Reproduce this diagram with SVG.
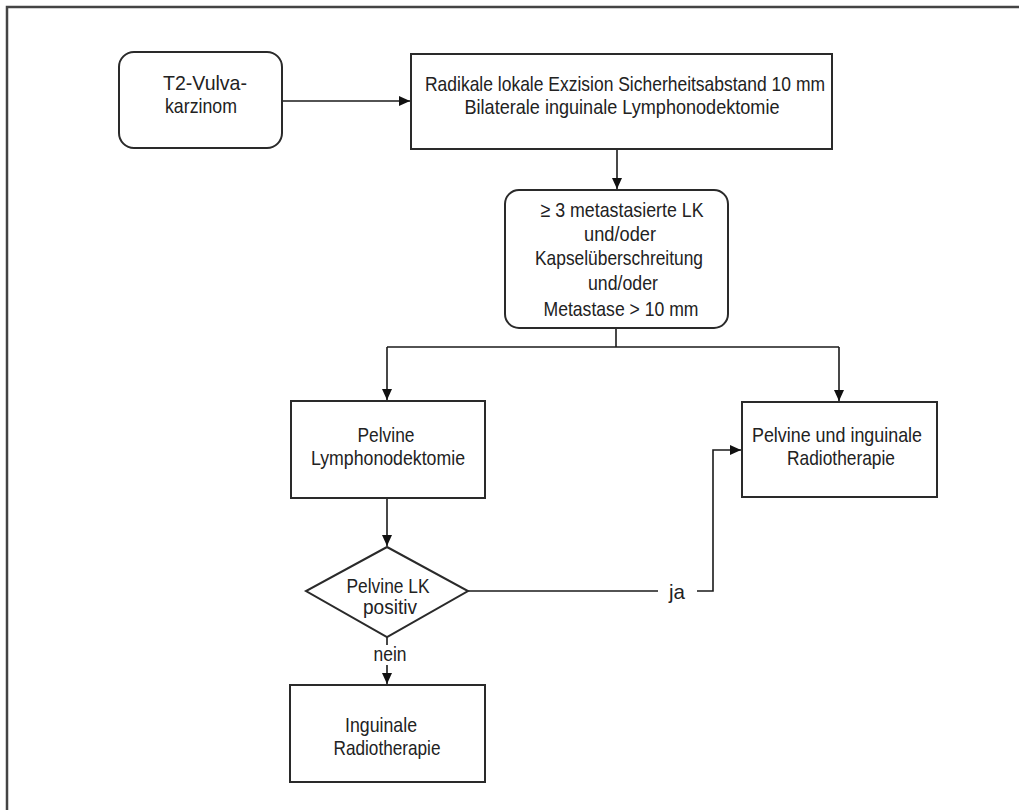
<svg xmlns="http://www.w3.org/2000/svg" width="1019" height="810" viewBox="0 0 1019 810">
<defs>
<style>
.box{fill:#fff;stroke:#2a2a2a;stroke-width:2}
.t{font-family:"Liberation Sans",Arial,sans-serif;font-size:21px;fill:#222;text-anchor:middle}
.c{fill:none;stroke:#1a1a1a;stroke-width:1.6}
.frame{fill:none;stroke:#444;stroke-width:2.5}
</style>
<marker id="ah" markerUnits="userSpaceOnUse" markerWidth="12" markerHeight="10" refX="11" refY="5" orient="auto">
<path d="M0,0 L11,5 L0,10 Z" fill="#111"/>
</marker>
</defs>
<rect width="1019" height="810" fill="#fff"/>
<path class="frame" d="M7,810 L7,7 L1019,7"/>

<g id="connectors">
<path class="c" d="M282,101 L410,101" marker-end="url(#ah)"/>
<path class="c" d="M617,149 L617,189" marker-end="url(#ah)"/>
<path class="c" d="M616,328 L616,347"/>
<path class="c" d="M387,347 L839,347"/>
<path class="c" d="M387,347 L387,400" marker-end="url(#ah)"/>
<path class="c" d="M839,347 L839,401" marker-end="url(#ah)"/>
<path class="c" d="M387,498 L387,546" marker-end="url(#ah)"/>
<path class="c" d="M468,591 L658,591"/>
<path class="c" d="M697,591 L713,591 L713,450 L741,450" marker-end="url(#ah)"/>
<path class="c" d="M387,637 L387,645"/>
<path class="c" d="M387,665 L387,684" marker-end="url(#ah)"/>
<text class="t" x="677" y="599" textLength="16" lengthAdjust="spacingAndGlyphs">ja</text>
<text class="t" x="390" y="661" textLength="33" lengthAdjust="spacingAndGlyphs">nein</text>
</g>

<g id="n-t2">
<rect class="box" x="119" y="52" width="163" height="96" rx="15"/>
<text class="t" x="205" y="90" textLength="84" lengthAdjust="spacingAndGlyphs">T2-Vulva-</text>
<text class="t" x="201" y="113" textLength="72" lengthAdjust="spacingAndGlyphs">karzinom</text>
</g>

<g id="n-exzision">
<rect class="box" x="411" y="54" width="421" height="95"/>
<text class="t" x="625" y="91" textLength="400" lengthAdjust="spacingAndGlyphs">Radikale lokale Exzision Sicherheitsabstand 10 mm</text>
<text class="t" x="622" y="114" textLength="315" lengthAdjust="spacingAndGlyphs">Bilaterale inguinale Lymphonodektomie</text>
</g>

<g id="n-kriterien">
<rect class="box" x="505" y="190" width="223" height="138" rx="14"/>
<text class="t" x="622" y="217" textLength="163" lengthAdjust="spacingAndGlyphs">≥ 3 metastasierte LK</text>
<text class="t" x="620" y="241" textLength="72" lengthAdjust="spacingAndGlyphs">und/oder</text>
<text class="t" x="619" y="265" textLength="168" lengthAdjust="spacingAndGlyphs">Kapselüberschreitung</text>
<text class="t" x="623" y="290" textLength="70" lengthAdjust="spacingAndGlyphs">und/oder</text>
<text class="t" x="621" y="316" textLength="155" lengthAdjust="spacingAndGlyphs">Metastase &gt; 10 mm</text>
</g>

<g id="n-pelvine-lne">
<rect class="box" x="291" y="401" width="194" height="97"/>
<text class="t" x="386" y="442" textLength="57" lengthAdjust="spacingAndGlyphs">Pelvine</text>
<text class="t" x="388" y="465" textLength="154" lengthAdjust="spacingAndGlyphs">Lymphonodektomie</text>
</g>

<g id="n-radio-beide">
<rect class="box" x="742" y="402" width="195" height="95"/>
<text class="t" x="837" y="442" textLength="170" lengthAdjust="spacingAndGlyphs">Pelvine und inguinale</text>
<text class="t" x="841" y="465" textLength="108" lengthAdjust="spacingAndGlyphs">Radiotherapie</text>
</g>

<g id="n-entscheidung">
<polygon class="box" points="387,547 468,591 387,637 306,591"/>
<text class="t" x="388" y="593" textLength="83" lengthAdjust="spacingAndGlyphs">Pelvine LK</text>
<text class="t" x="390" y="614" textLength="54" lengthAdjust="spacingAndGlyphs">positiv</text>
</g>

<g id="n-radio-ing">
<rect class="box" x="290" y="685" width="195" height="97"/>
<text class="t" x="381" y="732" textLength="72" lengthAdjust="spacingAndGlyphs">Inguinale</text>
<text class="t" x="387" y="755" textLength="107" lengthAdjust="spacingAndGlyphs">Radiotherapie</text>
</g>
</svg>
